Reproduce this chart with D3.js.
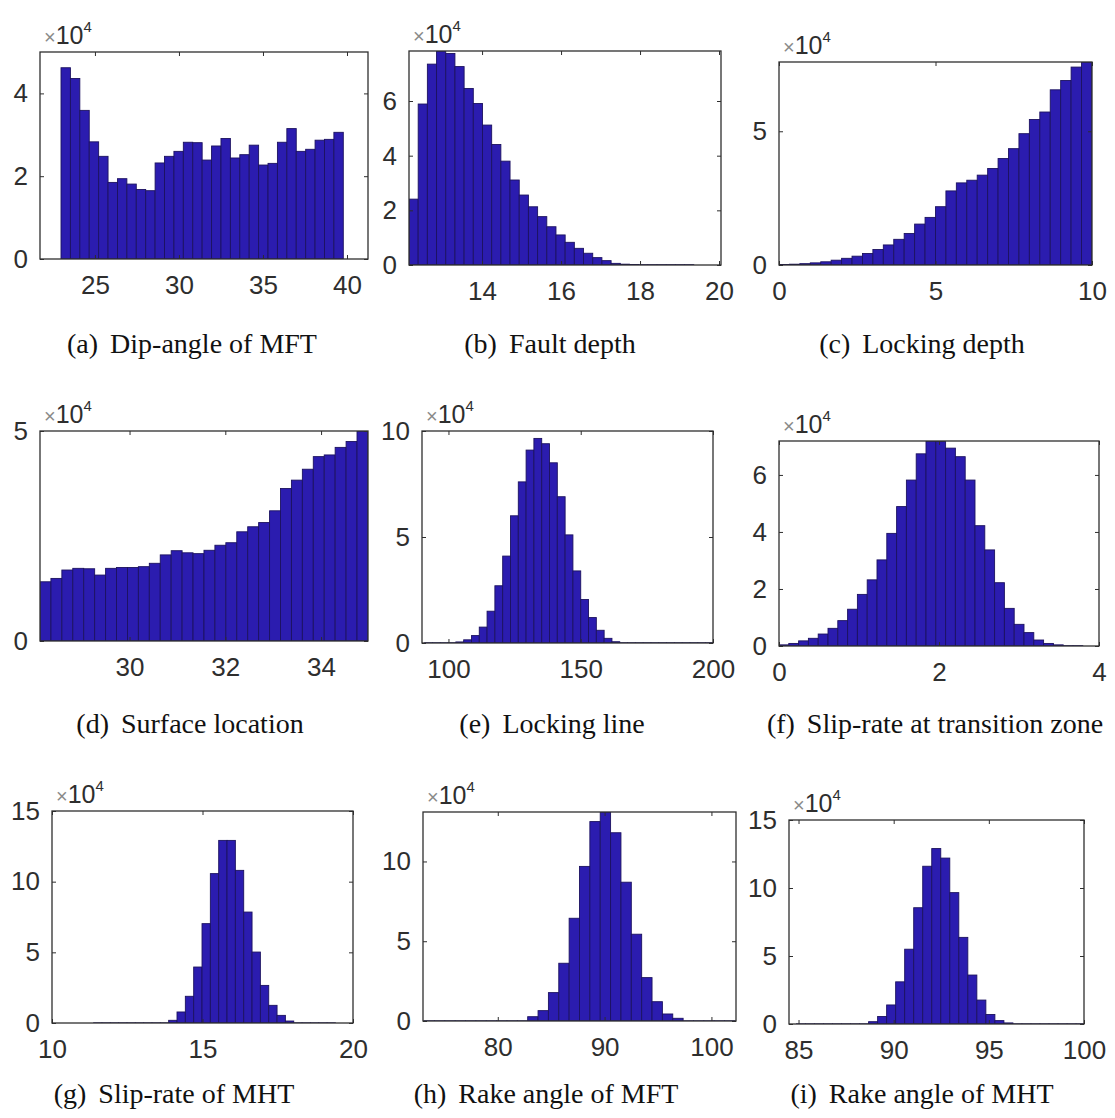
<!DOCTYPE html>
<html>
<head>
<meta charset="utf-8">
<script src="https://cdn.jsdelivr.net/npm/d3@7"></script>
<style>
  html, body { margin: 0; padding: 0; background: #ffffff; }
  svg { display: block; }
</style>
</head>
<body>
<svg id="fig" width="1115" height="1118"></svg>
<script>
// Posterior sample histograms of the nine fault-model parameters.
// Counts are in units of 10^4 samples per bin; binning = [first bin edge, bin width].

// (a) Dip-angle of MFT
const dipAngleCounts = [4.62, 4.36, 3.59, 2.83, 2.48, 1.85, 1.94, 1.81, 1.68, 1.65,
  2.32, 2.48, 2.60, 2.82, 2.81, 2.39, 2.73, 2.91, 2.44, 2.52,
  2.75, 2.27, 2.31, 2.82, 3.15, 2.60, 2.65, 2.87, 2.89, 3.06];
const dipAngleBinning = [22.98, 0.56];
const dipAngleXLim = [21.73, 41.25];
const dipAngleYLim = [0, 5];
const dipAngleXTicks = [25, 30, 35, 40];
const dipAngleYTicks = [0, 2, 4];

// (b) Fault depth
const faultDepthCounts = [2.41, 5.89, 7.35, 7.83, 7.74, 7.26, 6.46, 5.91, 5.12, 4.41,
  3.80, 3.11, 2.56, 2.13, 1.77, 1.40, 1.10, 0.83, 0.61, 0.43,
  0.27, 0.16, 0.06, 0.03, 0.02, 0.01, 0.01, 0.01, 0.01, 0.01, 0.01];
const faultDepthBinning = [12.15, 0.2326];
const faultDepthXLim = [12.15, 20.05];
const faultDepthYLim = [0, 7.83];
const faultDepthXTicks = [14, 16, 18, 20];
const faultDepthYTicks = [0, 2, 4, 6];

// (c) Locking depth
const lockingDepthCounts = [0.02, 0.03, 0.05, 0.08, 0.12, 0.18, 0.25, 0.33, 0.43, 0.58,
  0.75, 0.96, 1.18, 1.53, 1.78, 2.18, 2.77, 3.07, 3.17, 3.36,
  3.61, 3.98, 4.35, 4.91, 5.44, 5.72, 6.55, 6.90, 7.40, 7.59];
const lockingDepthBinning = [0, 0.3333];
const lockingDepthXLim = [0, 10];
const lockingDepthYLim = [0, 7.59];
const lockingDepthXTicks = [0, 5, 10];
const lockingDepthYTicks = [0, 5];

// (d) Surface location
const surfaceLocCounts = [1.41, 1.49, 1.69, 1.73, 1.72, 1.57, 1.73, 1.75, 1.75, 1.77,
  1.85, 2.05, 2.15, 2.10, 2.08, 2.16, 2.28, 2.34, 2.60, 2.72,
  2.82, 3.10, 3.63, 3.83, 4.09, 4.39, 4.43, 4.61, 4.75, 5.00];
const surfaceLocBinning = [28.13, 0.2283];
const surfaceLocXLim = [28.13, 34.98];
const surfaceLocYLim = [0, 5];
const surfaceLocXTicks = [30, 32, 34];
const surfaceLocYTicks = [0, 5];

// (e) Locking line
const lockingLineCounts = [0.01, 0.01, 0.01, 0.01,
  0.05, 0.15, 0.35, 0.75, 1.50, 2.70, 4.10, 6.00, 7.60, 9.10,
  9.65, 9.40, 8.50, 6.90, 5.10, 3.40, 2.05, 1.20, 0.60, 0.22, 0.06,
  0.01, 0.01, 0.01, 0.01, 0.01, 0.01, 0.01, 0.01, 0.01, 0.01, 0.01, 0.01];
const lockingLineBinning = [91.0, 2.95];
const lockingLineXLim = [90, 200];
const lockingLineYLim = [0, 10];
const lockingLineXTicks = [100, 150, 200];
const lockingLineYTicks = [0, 5, 10];

// (f) Slip-rate at transition zone
const slipTransCounts = [0.04, 0.09, 0.18, 0.27, 0.42, 0.62, 0.89, 1.29, 1.81, 2.32,
  3.02, 3.95, 4.89, 5.82, 6.74, 7.19, 7.17, 6.94, 6.64, 5.82,
  4.22, 3.37, 2.22, 1.32, 0.76, 0.47, 0.21, 0.09, 0.04, 0.01, 0.01];
const slipTransBinning = [0, 0.1225];
const slipTransXLim = [0, 4];
const slipTransYLim = [0, 7.19];
const slipTransXTicks = [0, 2, 4];
const slipTransYTicks = [0, 2, 4, 6];

// (g) Slip-rate of MHT
const slipMhtCounts = [0.01, 0.01, 0.01, 0.01, 0.01, 0.01, 0.01, 0.01, 0.01,
  0.19, 0.78, 1.89, 3.96, 7.03, 10.57, 12.92, 12.92, 10.80, 7.85,
  5.02, 2.66, 1.25, 0.54, 0.14,
  0.01, 0.01, 0.01, 0.01, 0.01];
const slipMhtBinning = [11.383, 0.277];
const slipMhtXLim = [10, 20];
const slipMhtYLim = [0, 15];
const slipMhtXTicks = [10, 15, 20];
const slipMhtYTicks = [0, 5, 10, 15];

// (h) Rake angle of MFT
const rakeMftCounts = [0.01, 0.01, 0.01, 0.01, 0.01, 0.01, 0.01, 0.01, 0.01, 0.01,
  0.27, 0.65, 1.78, 3.62, 6.44, 9.69, 12.50, 13.10, 11.80, 8.70,
  5.44, 2.72, 1.21, 0.44, 0.17,
  0.01, 0.01, 0.01, 0.01, 0.01];
const rakeMftBinning = [73.1, 0.97];
const rakeMftXLim = [73.0, 102.3];
const rakeMftYLim = [0, 13.1];
const rakeMftXTicks = [80, 90, 100];
const rakeMftYTicks = [0, 5, 10];

// (i) Rake angle of MHT
const rakeMhtCounts = [0.01, 0.01, 0.01, 0.01, 0.01, 0.01, 0.01, 0.01,
  0.17, 0.55, 1.40, 3.10, 5.50, 8.55, 11.60, 12.90, 12.20, 9.66,
  6.37, 3.60, 1.76, 0.70, 0.25, 0.08,
  0.01, 0.01, 0.01, 0.01, 0.01, 0.01, 0.01, 0.01];
const rakeMhtBinning = [84.89, 0.474];
const rakeMhtXLim = [84.5, 100];
const rakeMhtYLim = [0, 15];
const rakeMhtXTicks = [85, 90, 95, 100];
const rakeMhtYTicks = [0, 5, 10, 15];

const captionLetters = ["(a)", "(b)", "(c)", "(d)", "(e)", "(f)", "(g)", "(h)", "(i)"];
const captionTexts = ["Dip-angle of MFT", "Fault depth", "Locking depth",
  "Surface location", "Locking line", "Slip-rate at transition zone",
  "Slip-rate of MHT", "Rake angle of MFT", "Rake angle of MHT"];

// ---------------------------------------------------------------------------
// Panel geometry (pixels): axes box and caption anchor
const boxes = [
  { l: 40,  t: 52,  r: 368,  b: 259 },
  { l: 409, t: 51,  r: 721,  b: 265 },
  { l: 779, t: 62,  r: 1092, b: 265 },
  { l: 40,  t: 431, r: 368,  b: 641 },
  { l: 422, t: 431, r: 713,  b: 643 },
  { l: 779, t: 441, r: 1099, b: 646 },
  { l: 52,  t: 811, r: 353,  b: 1023 },
  { l: 423, t: 812, r: 736,  b: 1021 },
  { l: 789, t: 820, r: 1084, b: 1024 }
];
const captionAnchors = [
  [192, 353], [550, 353], [922, 353],
  [190, 733], [552, 733], [935, 733],
  [174, 1103], [546, 1103], [922, 1103]
];

const panels = [
  [dipAngleCounts, dipAngleBinning, dipAngleXLim, dipAngleYLim, dipAngleXTicks, dipAngleYTicks],
  [faultDepthCounts, faultDepthBinning, faultDepthXLim, faultDepthYLim, faultDepthXTicks, faultDepthYTicks],
  [lockingDepthCounts, lockingDepthBinning, lockingDepthXLim, lockingDepthYLim, lockingDepthXTicks, lockingDepthYTicks],
  [surfaceLocCounts, surfaceLocBinning, surfaceLocXLim, surfaceLocYLim, surfaceLocXTicks, surfaceLocYTicks],
  [lockingLineCounts, lockingLineBinning, lockingLineXLim, lockingLineYLim, lockingLineXTicks, lockingLineYTicks],
  [slipTransCounts, slipTransBinning, slipTransXLim, slipTransYLim, slipTransXTicks, slipTransYTicks],
  [slipMhtCounts, slipMhtBinning, slipMhtXLim, slipMhtYLim, slipMhtXTicks, slipMhtYTicks],
  [rakeMftCounts, rakeMftBinning, rakeMftXLim, rakeMftYLim, rakeMftXTicks, rakeMftYTicks],
  [rakeMhtCounts, rakeMhtBinning, rakeMhtXLim, rakeMhtYLim, rakeMhtXTicks, rakeMhtYTicks]
];

const BAR_FILL = "#2b1caf";
const BAR_EDGE = "#1c1260";
const AXIS_COLOR = "#2e2e2e";
const SANS = "'Liberation Sans', Arial, Helvetica, sans-serif";
const SERIF = "'Liberation Serif', 'Times New Roman', Times, serif";
const TICK_LEN = 4;

const svg = d3.select("#fig");
svg.append("rect").attr("width", 1115).attr("height", 1118).attr("fill", "#ffffff");
const defs = svg.append("defs");

panels.forEach(([counts, binning, xLim, yLim, xTicks, yTicks], i) => {
  const box = boxes[i];
  const x = d3.scaleLinear().domain(xLim).range([box.l, box.r]);
  const y = d3.scaleLinear().domain(yLim).range([box.b, box.t]);
  const g = svg.append("g").attr("class", "panel");

  // clip bars to the axes box
  const clipId = "clip" + i;
  defs.append("clipPath").attr("id", clipId)
    .append("rect")
    .attr("x", box.l).attr("y", box.t)
    .attr("width", box.r - box.l).attr("height", box.b - box.t);

  const bins = counts.map((c, k) => ({
    x0: binning[0] + k * binning[1],
    x1: binning[0] + (k + 1) * binning[1],
    c: c
  }));

  g.append("g").attr("clip-path", `url(#${clipId})`)
    .selectAll("rect")
    .data(bins)
    .join("rect")
    .attr("x", d => x(d.x0))
    .attr("width", d => x(d.x1) - x(d.x0))
    .attr("y", d => y(d.c))
    .attr("height", d => y(0) - y(d.c))
    .attr("fill", BAR_FILL)
    .attr("stroke", BAR_EDGE)
    .attr("stroke-width", 0.9);

  // axes: ticks point inward on all four sides
  const styleAxis = sel => {
    sel.select(".domain").remove();
    sel.selectAll(".tick line").attr("stroke", AXIS_COLOR).attr("stroke-width", 1);
    sel.selectAll(".tick text")
      .attr("fill", AXIS_COLOR)
      .attr("font-family", SANS)
      .attr("font-size", 26);
  };

  g.append("g").attr("transform", `translate(0,${box.b})`)
    .call(d3.axisBottom(x).tickValues(xTicks).tickFormat(d3.format("d"))
      .tickSizeInner(-TICK_LEN).tickSizeOuter(0).tickPadding(17))
    .call(styleAxis);
  g.append("g").attr("transform", `translate(0,${box.t})`)
    .call(d3.axisTop(x).tickValues(xTicks).tickFormat("")
      .tickSizeInner(-TICK_LEN).tickSizeOuter(0))
    .call(styleAxis);
  g.append("g").attr("transform", `translate(${box.l},0)`)
    .call(d3.axisLeft(y).tickValues(yTicks).tickFormat(d3.format("d"))
      .tickSizeInner(-TICK_LEN).tickSizeOuter(0).tickPadding(12))
    .call(styleAxis);
  g.append("g").attr("transform", `translate(${box.r},0)`)
    .call(d3.axisRight(y).tickValues(yTicks).tickFormat("")
      .tickSizeInner(-TICK_LEN).tickSizeOuter(0))
    .call(styleAxis);

  // axes box
  g.append("rect")
    .attr("x", box.l).attr("y", box.t)
    .attr("width", box.r - box.l).attr("height", box.b - box.t)
    .attr("fill", "none").attr("stroke", AXIS_COLOR).attr("stroke-width", 1.3);

  // exponent label above the y axis
  const ex = g.append("text")
    .attr("x", box.l + 4).attr("y", box.t - 8)
    .attr("font-family", SANS);
  ex.append("tspan").attr("font-size", 20).attr("fill", "#8a8a8a").text("×");
  ex.append("tspan").attr("font-size", 25).attr("fill", AXIS_COLOR).text("10");
  ex.append("tspan").attr("font-size", 15).attr("fill", AXIS_COLOR).attr("dy", -12).text("4");

  // caption
  const [cx, cy] = captionAnchors[i];
  const cap = g.append("text")
    .attr("x", cx).attr("y", cy)
    .attr("text-anchor", "middle")
    .attr("font-family", SERIF)
    .attr("font-size", 28)
    .attr("fill", "#111111");
  cap.append("tspan").text(captionLetters[i]);
  cap.append("tspan").attr("dx", 12).text(captionTexts[i]);
});
</script>
</body>
</html>
